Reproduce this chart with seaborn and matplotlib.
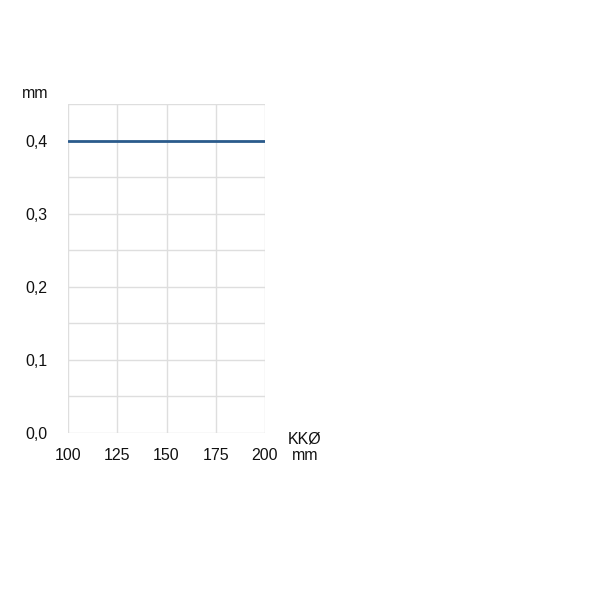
import matplotlib
matplotlib.use("Agg")
import matplotlib.pyplot as plt
from matplotlib.ticker import MultipleLocator, FuncFormatter
import seaborn as sns
import pandas as pd

# datos
kk_diametro = [100, 125, 150, 175, 200]
valores_mm = [0.4, 0.4, 0.4, 0.4, 0.4]

df = pd.DataFrame({"KK": kk_diametro, "mm": valores_mm})

sns.set_theme(style="white")
plt.rcParams['font.family'] = ['Liberation Sans', 'DejaVu Sans']

fig = plt.figure(figsize=(6, 6), dpi=100)
ax = fig.add_axes([68 / 600, 1 - 433 / 600, 197 / 600, 329 / 600])

sns.lineplot(data=df, x="KK", y="mm", ax=ax, color="#2b5b8c", linewidth=2)

ax.set_xlim(100, 200)
ax.set_ylim(0, 0.45)
ax.xaxis.set_major_locator(MultipleLocator(25))
ax.yaxis.set_major_locator(MultipleLocator(0.1))
ax.yaxis.set_minor_locator(MultipleLocator(0.05))
ax.yaxis.set_major_formatter(FuncFormatter(lambda v, p: f"{v:.1f}".replace(".", ",")))

ax.grid(True, which="both", color="#dedede", linewidth=1)
ax.set_axisbelow(True)
for s in ax.spines.values():
    s.set_visible(False)

ax.tick_params(axis="both", which="both", length=0, labelsize=11.5, colors="#111111")
ax.tick_params(axis="x", pad=11)
ax.tick_params(axis="y", pad=15)
ax.set_xlabel("")
ax.set_ylabel("")

fig.text(35 / 600, 1 - 93 / 600, "mm", ha="center", va="center", fontsize=11.5, color="#111111")
fig.text(305 / 600, 1 - 447 / 600, "KKØ\nmm", ha="center", va="center", fontsize=11.5,
         color="#111111", linespacing=1.1)

fig.savefig("out.png", dpi=100)
